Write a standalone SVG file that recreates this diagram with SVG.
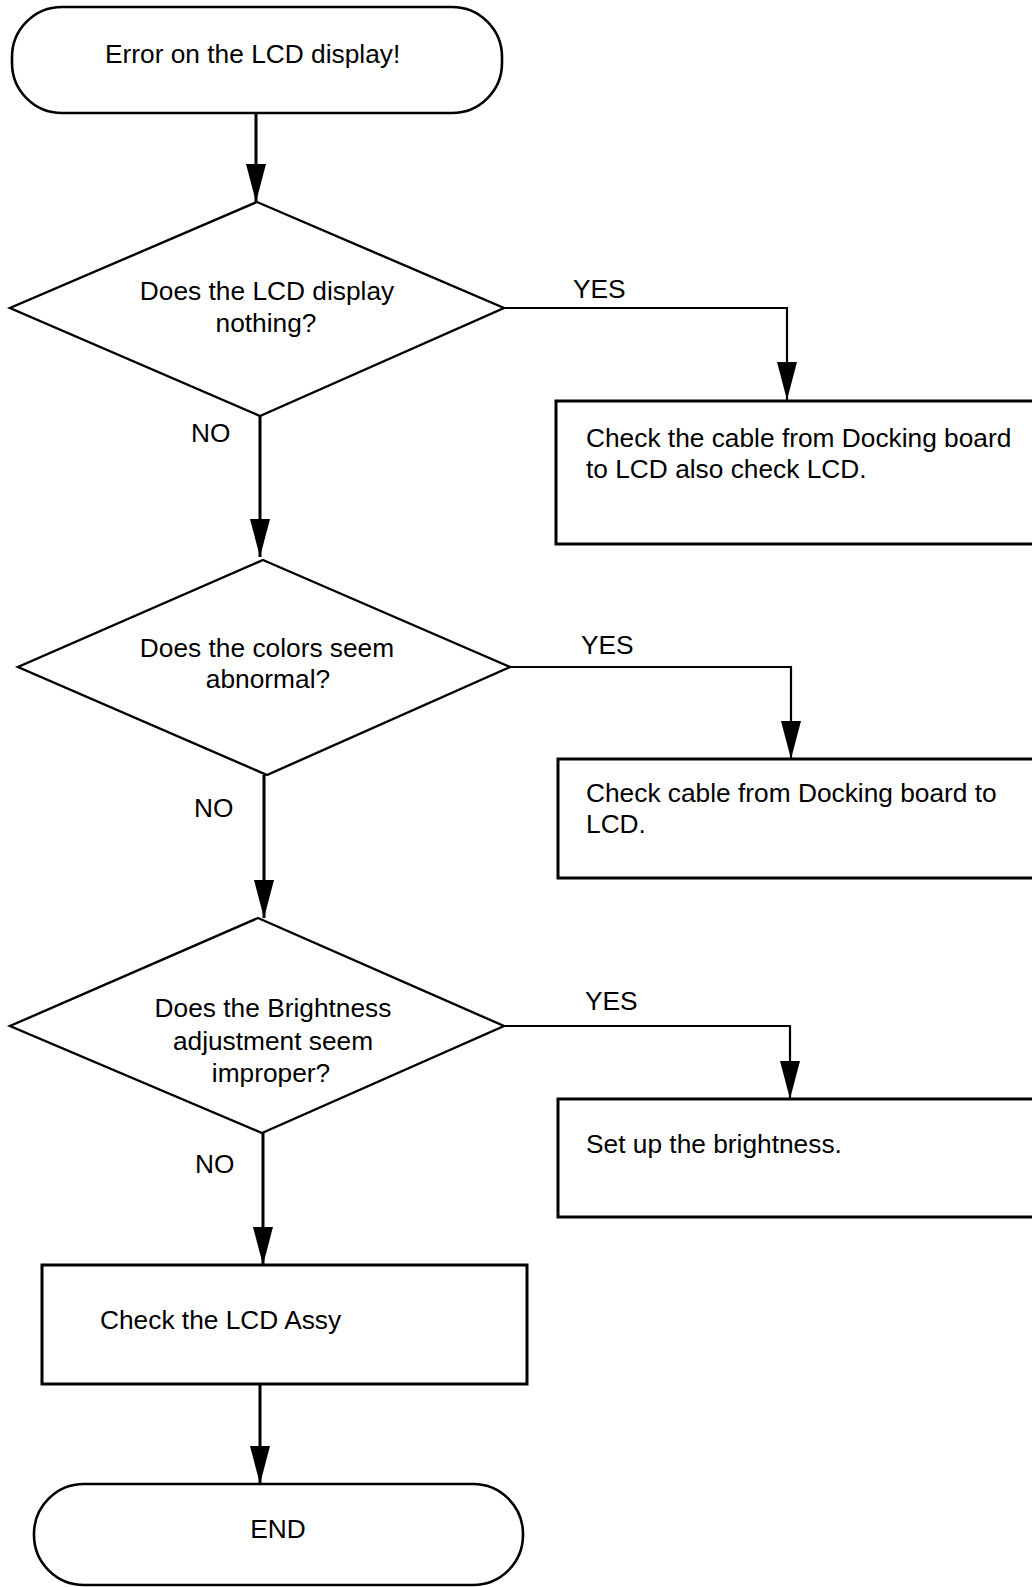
<svg xmlns="http://www.w3.org/2000/svg" width="1032" height="1587" viewBox="0 0 1032 1587">
<style>
  text { font-family: "Liberation Sans", Arial, sans-serif; font-size: 26.3px; fill: #000; }
  .c { text-anchor: middle; }
  .term { fill: #fff; stroke: #000; stroke-width: 2.6; }
  .dia { fill: #fff; stroke: #000; stroke-width: 2.4; }
  .box { fill: #fff; stroke: #000; stroke-width: 3; }
  .edge { fill: none; stroke: #000; stroke-width: 3; marker-end: url(#arr); }
  .edge2 { fill: none; stroke: #000; stroke-width: 2.2; marker-end: url(#arr); }
</style>
<defs>
  <marker id="arr" markerUnits="userSpaceOnUse" markerWidth="38" markerHeight="20" refX="38" refY="10" orient="auto">
    <path d="M0,0 L38,10 L0,20 z" fill="#000"/>
  </marker>
</defs>
<rect width="1032" height="1587" fill="#fff"/>

<g id="connectors">
  <path class="edge" d="M256,113 V202"/>
  <path class="edge2" d="M504,308 H787 V400"/>
  <path class="edge" d="M260,416 V557"/>
  <path class="edge2" d="M510,667 H791 V759"/>
  <path class="edge" d="M264,775 V918"/>
  <path class="edge2" d="M504,1026 H790 V1099"/>
  <path class="edge" d="M263,1133 V1265"/>
  <path class="edge" d="M260,1384 V1484"/>
</g>

<g id="labels">
  <text x="573" y="298">YES</text>
  <text x="191" y="442">NO</text>
  <text x="581" y="654">YES</text>
  <text x="194" y="817">NO</text>
  <text x="585" y="1010">YES</text>
  <text x="195" y="1173">NO</text>
</g>

<g id="start">
  <rect class="term" x="12" y="7" width="490" height="106" rx="50" ry="50"/>
  <text x="105" y="63">Error on the LCD display!</text>
</g>

<g id="d1">
  <polygon class="dia" points="257,202 504,308 260,416 10,308"/>
  <text class="c" x="267" y="300">Does the LCD display</text>
  <text class="c" x="266" y="332">nothing?</text>
</g>

<g id="b1">
  <rect class="box" x="556" y="401" width="500" height="143"/>
  <text x="586" y="447">Check the cable from Docking board</text>
  <text x="586" y="478">to LCD also check LCD.</text>
</g>

<g id="d2">
  <polygon class="dia" points="263,560 510,667 267,775 18,667"/>
  <text class="c" x="267" y="657">Does the colors seem</text>
  <text class="c" x="268" y="688">abnormal?</text>
</g>

<g id="b2">
  <rect class="box" x="558" y="759" width="500" height="119"/>
  <text x="586" y="802">Check cable from Docking board to</text>
  <text x="586" y="833">LCD.</text>
</g>

<g id="d3">
  <polygon class="dia" points="258,918 504,1026 262,1133 10,1026"/>
  <text class="c" x="273" y="1017">Does the Brightness</text>
  <text class="c" x="273" y="1050">adjustment seem</text>
  <text class="c" x="271" y="1082">improper?</text>
</g>

<g id="b3">
  <rect class="box" x="558" y="1099" width="500" height="118"/>
  <text x="586" y="1153">Set up the brightness.</text>
</g>

<g id="b4">
  <rect class="box" x="42" y="1265" width="485" height="119"/>
  <text x="100" y="1329">Check the LCD Assy</text>
</g>

<g id="end">
  <rect class="term" x="34" y="1484" width="489" height="101" rx="50" ry="50"/>
  <text class="c" x="278" y="1538">END</text>
</g>
</svg>
